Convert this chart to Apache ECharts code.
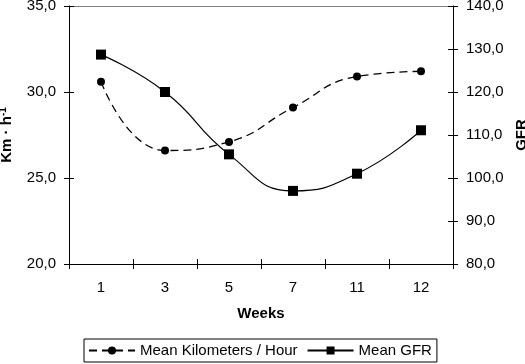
<!DOCTYPE html>
<html><head><meta charset="utf-8">
<script src="https://cdn.jsdelivr.net/npm/echarts@6/dist/echarts.min.js"></script>
<style>html,body{margin:0;padding:0;background:#fff}#c{width:525px;height:364px}</style>
</head><body><div id="c"></div>
<script>
const weeks = ['1','3','5','7','11','12'];
const kmh = [30.6, 26.6, 27.1, 29.1, 30.9, 31.2];
const gfr = [128.7, 120.0, 105.5, 97.0, 101.0, 111.1];
const seriesNames = ['Mean Kilometers / Hour', 'Mean GFR'];

const FONT = 'Liberation Sans, Arial, sans-serif';
const fmt = v => v.toFixed(1).replace('.', ',');
const chart = echarts.init(document.getElementById('c'), null, {renderer: 'canvas'});
const blackLine = {show: true, lineStyle: {color: '#000', width: 1}};
const insideTicks = {show: true, inside: true, length: 5, lineStyle: {color: '#000', width: 1}};
const outsideTicks = {show: true, inside: false, length: 5, lineStyle: {color: '#000', width: 1}};

chart.setOption({
  animation: false,
  backgroundColor: '#fff',
  textStyle: {fontFamily: FONT},
  grid: {left: 69, right: 72, top: 6, bottom: 100, containLabel: false, outerBoundsMode: 'none'},
  legend: {
    data: seriesNames,
    left: 84, top: 339,
    orient: 'horizontal',
    itemWidth: 46, itemHeight: 10, itemGap: 9,
    borderColor: '#000', borderWidth: 1,
    padding: [4, 5, 4, 4],
    textStyle: {fontSize: 15, color: '#000', fontFamily: FONT}
  },
  xAxis: [
    {
      type: 'category', data: weeks, position: 'bottom', boundaryGap: true,
      axisLine: blackLine, axisTick: outsideTicks,
      axisLabel: {margin: 16, fontSize: 15, color: '#000', fontFamily: FONT},
      name: 'Weeks', nameLocation: 'middle', nameGap: 42,
      nameTextStyle: {fontSize: 15, fontWeight: 'bold', color: '#000', fontFamily: FONT},
      splitLine: {show: false}
    },
    {
      type: 'category', data: weeks, position: 'top', boundaryGap: true,
      axisLine: {show: true, lineStyle: {color: '#808080', width: 1}},
      axisTick: {show: false}, axisLabel: {show: false}, splitLine: {show: false}
    },
    {
      type: 'category', data: weeks, position: 'bottom', boundaryGap: true,
      axisLine: {show: false}, axisTick: insideTicks,
      axisLabel: {show: false}, splitLine: {show: false}
    }
  ],
  yAxis: [
    {
      type: 'value', position: 'left', min: 20, max: 35, interval: 5,
      axisLine: blackLine, axisTick: outsideTicks,
      axisLabel: {margin: 13, fontSize: 15, color: '#000', fontFamily: FONT, formatter: fmt},
      splitLine: {show: false},
      name: 'Km · h{sup|-1}', nameLocation: 'middle', nameGap: 48, nameRotate: 90,
      nameTextStyle: {fontSize: 15, fontWeight: 'bold', color: '#000', fontFamily: FONT, lineHeight: 18,
        rich: {sup: {fontSize: 10, fontWeight: 'bold', verticalAlign: 'top', lineHeight: 10, color: '#000', fontFamily: FONT}}}
    },
    {
      type: 'value', position: 'right', min: 80, max: 140, interval: 10,
      axisLine: blackLine, axisTick: outsideTicks,
      axisLabel: {margin: 13, fontSize: 15, color: '#000', fontFamily: FONT, formatter: fmt},
      splitLine: {show: false},
      name: 'GFR', nameLocation: 'middle', nameGap: 56, nameRotate: 90,
      nameTextStyle: {fontSize: 15, fontWeight: 'bold', color: '#000', fontFamily: FONT}
    },
    {
      type: 'value', position: 'left', min: 20, max: 35, interval: 5, offset: 0,
      axisLine: {show: false}, axisTick: insideTicks, axisLabel: {show: false}, splitLine: {show: false}
    },
    {
      type: 'value', position: 'right', min: 80, max: 140, interval: 10, offset: 0,
      axisLine: {show: false}, axisTick: insideTicks, axisLabel: {show: false}, splitLine: {show: false}
    }
  ],
  series: [
    {
      name: seriesNames[0], type: 'line', xAxisIndex: 0, yAxisIndex: 0,
      data: kmh, smooth: 0.5,
      symbol: 'circle', symbolSize: 8,
      lineStyle: {color: '#000', width: 1.3, type: [8, 5]},
      itemStyle: {color: '#000'}
    },
    {
      name: seriesNames[1], type: 'line', xAxisIndex: 0, yAxisIndex: 1,
      data: gfr, smooth: 0.5,
      symbol: 'rect', symbolSize: 10,
      lineStyle: {color: '#000', width: 1.2, type: 'solid'},
      itemStyle: {color: '#000'}
    }
  ]
});
</script></body></html>
